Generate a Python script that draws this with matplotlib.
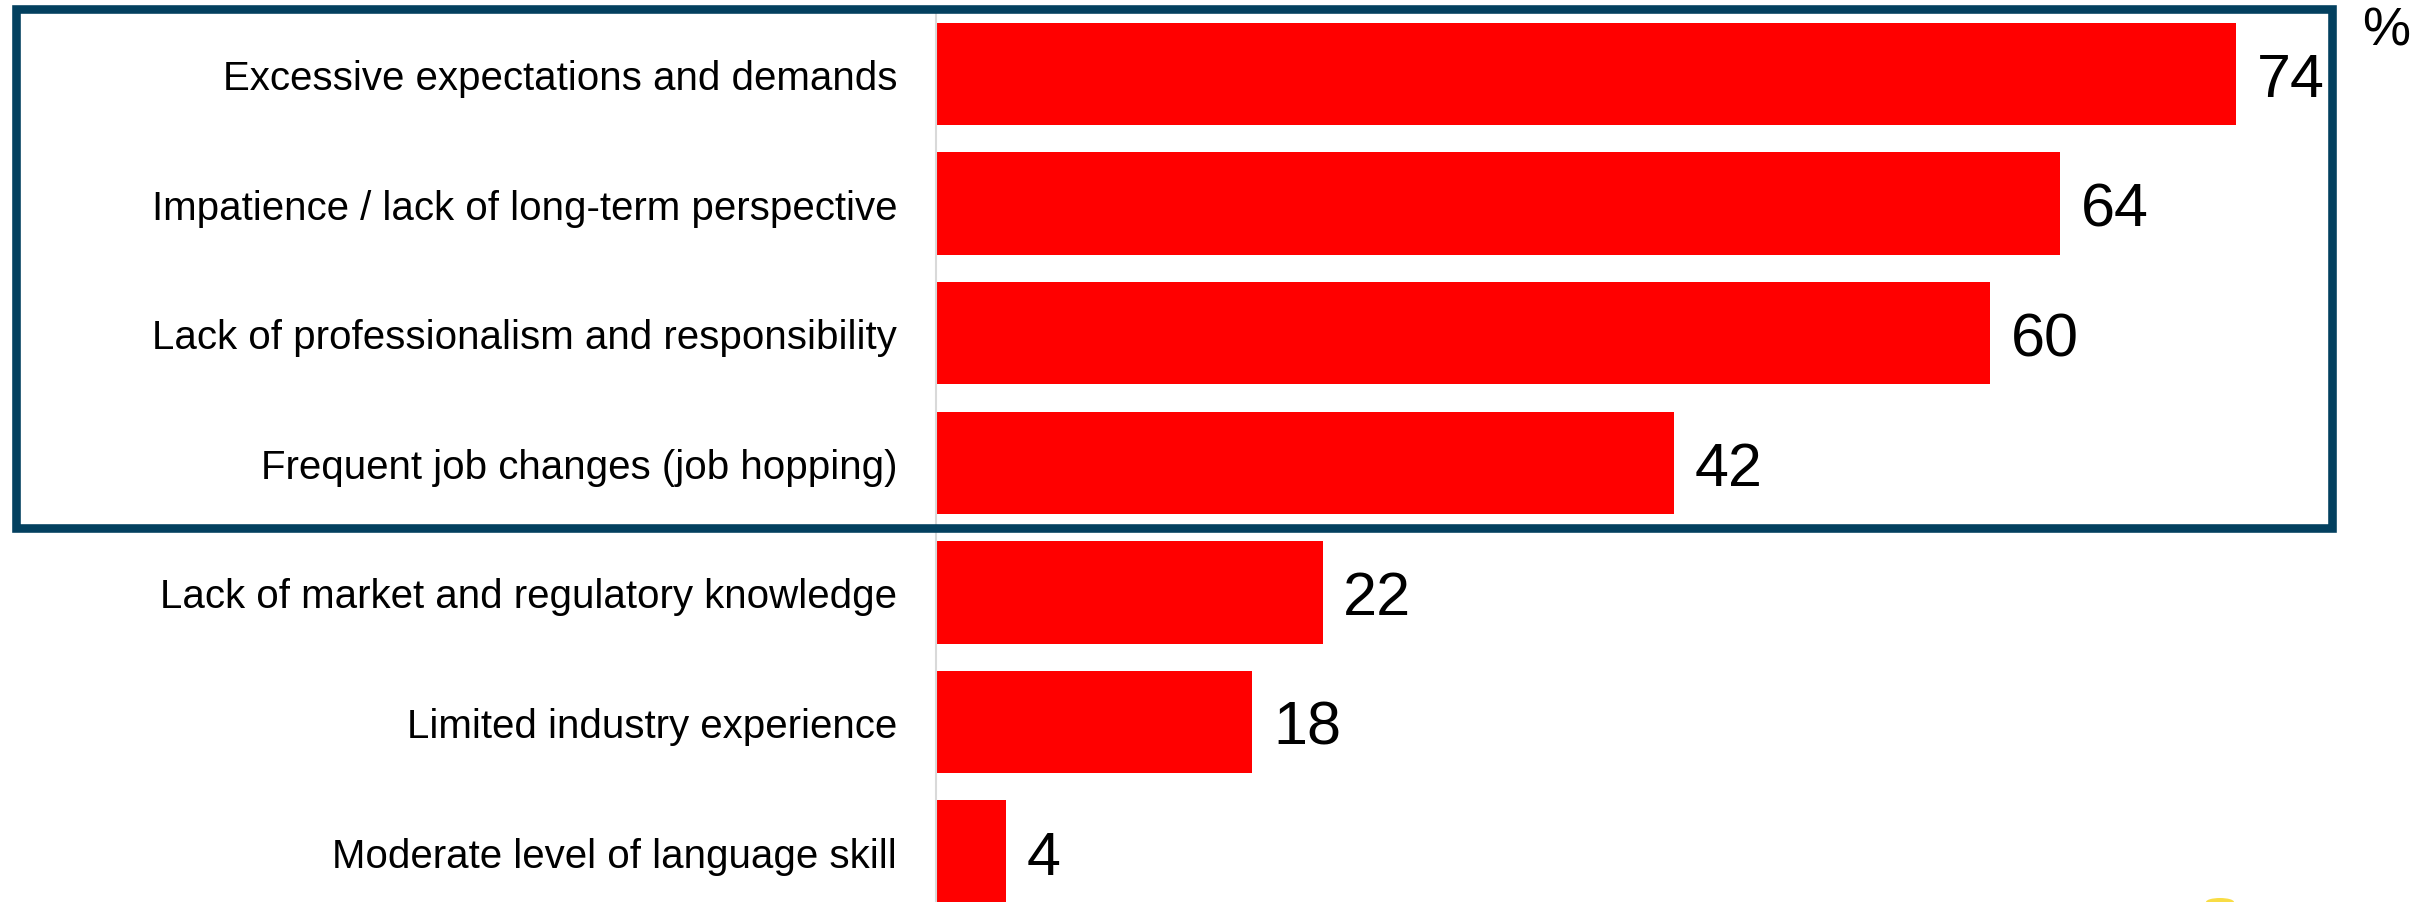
import matplotlib
matplotlib.use("Agg")
import matplotlib.pyplot as plt
from matplotlib.patches import Rectangle, Ellipse

# Survey results (percent of respondents)
categories = [
    "Excessive expectations and demands",
    "Impatience / lack of long-term perspective",
    "Lack of professionalism and responsibility",
    "Frequent job changes (job hopping)",
    "Lack of market and regulatory knowledge",
    "Limited industry experience",
    "Moderate level of language skill",
]
values = [74, 64, 60, 42, 22, 18, 4]
highlighted = 4  # number of top items framed by the box

W, H, DPI = 2433, 903, 100
plt.rcParams["font.family"] = ["Liberation Sans", "DejaVu Sans"]

fig = plt.figure(figsize=(W / DPI, H / DPI), dpi=DPI)
fig.patch.set_facecolor("white")

# plot area: left axis at x=936 px, first row centred at y=75 px, rows 129.6 px apart
x0_px, row0_px, row_px, px_per_unit, top_px = 936, 75, 129.6, 17.57, 12
ax = fig.add_axes([x0_px / W, 0, 1 - x0_px / W, (H - top_px) / H])
ypos = list(range(len(categories)))
ax.barh(ypos, values, height=0.79, color="#ff0000", zorder=2)
ax.set_ylim((H - row0_px) / row_px, -(row0_px - top_px) / row_px)
ax.set_xlim(0, (W - x0_px) / px_per_unit)

ax.set_yticks(ypos)
ax.set_yticklabels(categories, fontsize=29, color="black")
ax.tick_params(axis="y", length=0, pad=28)
ax.set_xticks([])
for side in ("top", "right", "bottom"):
    ax.spines[side].set_visible(False)
ax.spines["left"].set_color("#d9d9d9")
ax.spines["left"].set_linewidth(1.5)
ax.spines["left"].set_zorder(3)

for y, v in zip(ypos, values):
    ax.annotate(str(v), xy=(v, y), xytext=(15, 0), textcoords="offset points",
                ha="left", va="center_baseline", fontsize=44, color="black")

# unit marker
fig.text(2362 / W, 1 - 6 / H, "%", ha="left", va="top", fontsize=39, color="black")

# frame around the top items
box_left, box_right, box_top = 16, 2332, 10
box_bottom = row0_px + (highlighted - 0.5) * row_px
fig.add_artist(Rectangle((box_left / W, 1 - box_bottom / H),
                         (box_right - box_left) / W, (box_bottom - box_top) / H,
                         transform=fig.transFigure, fill=False,
                         edgecolor="#03405f", linewidth=6.2, zorder=10))

# small yellow mark at the bottom edge
fig.add_artist(Ellipse((2220 / W, 0), 28 / W, 8 / H, transform=fig.transFigure,
                       facecolor="#f7d417", edgecolor="none", alpha=0.8, zorder=10))

fig.savefig("out.png", dpi=DPI, facecolor="white")
